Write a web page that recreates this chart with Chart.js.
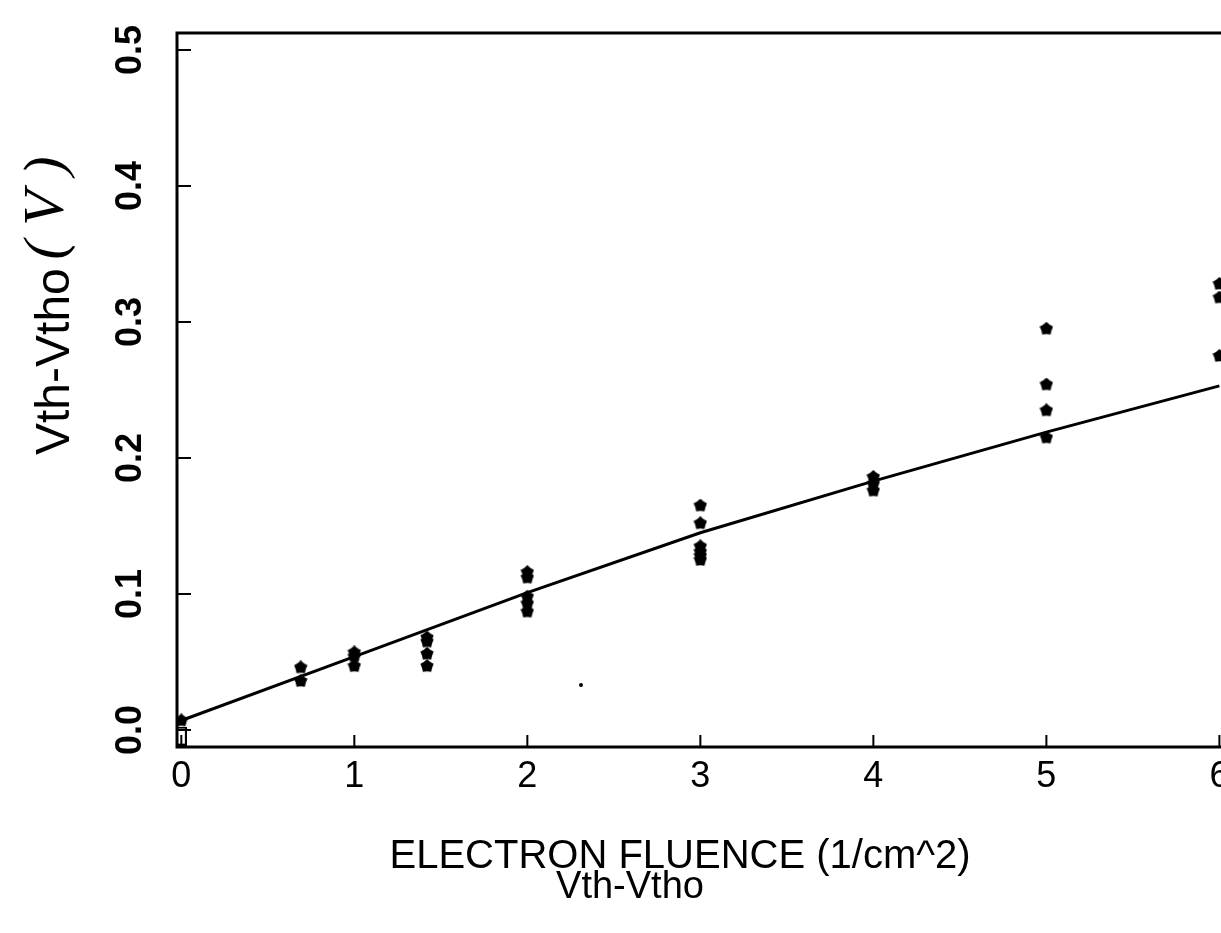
<!DOCTYPE html>
<html><head><meta charset="utf-8">
<script src="https://cdn.jsdelivr.net/npm/chart.js@4.4.1/dist/chart.umd.min.js"></script>
<style>
html,body{margin:0;padding:0;background:#fff;overflow:hidden;width:1221px;height:933px;}
#wrap{position:absolute;left:0;top:0;width:1270px;height:933px;}
</style></head><body>
<div id="wrap"><canvas id="c" width="1270" height="933"></canvas></div>
<script>
// ---- data ----
const xTickValues = [0, 1, 2, 3, 4, 5, 6];
const yTickValues = [0.0, 0.1, 0.2, 0.3, 0.4, 0.5];
const pointX = [0, 0.69, 0.69, 1, 1, 1, 1.42, 1.42, 1.42, 1.42, 2, 2, 2, 2, 2, 3, 3, 3, 3, 3, 3, 4, 4, 4, 5, 5, 5, 5, 6, 6, 6];
const pointY = [0.007, 0.046, 0.036, 0.057, 0.054, 0.047, 0.068, 0.065, 0.056, 0.047, 0.116, 0.112, 0.098, 0.093, 0.087, 0.165, 0.152, 0.135, 0.131, 0.128, 0.125, 0.186, 0.181, 0.176, 0.295, 0.254, 0.235, 0.215, 0.328, 0.318, 0.275];
const fitX = [0, 1, 2, 3, 4, 5, 6];
const fitY = [0.007, 0.054, 0.101, 0.145, 0.183, 0.219, 0.253];
const strayX = [2.31];
const strayY = [0.033];
const boxX = [0];
const boxY = [-0.0045];
const xTitle1 = 'ELECTRON FLUENCE (1/cm^2)';
const xTitle2 = 'Vth-Vtho';
const yTitle = 'Vth-Vtho';
const yUnit = '( V )';

const FONT = '"Liberation Sans", Arial, sans-serif';

// pentagon-star marker
function makeStar(size) {
  const c = document.createElement('canvas');
  c.width = size; c.height = size;
  const g = c.getContext('2d');
  const cx = size / 2, cy = size / 2, ro = size / 2, ri = ro * 0.76;
  g.beginPath();
  for (let i = 0; i < 10; i++) {
    const r = i % 2 === 0 ? ro : ri;
    const a = -Math.PI / 2 + i * Math.PI / 5;
    const px = cx + r * Math.cos(a), py = cy + r * Math.sin(a);
    if (i === 0) g.moveTo(px, py); else g.lineTo(px, py);
  }
  g.closePath();
  g.fillStyle = '#000';
  g.fill();
  return c;
}
function makeBox(w, h) {
  const c = document.createElement('canvas');
  c.width = w; c.height = h;
  const g = c.getContext('2d');
  g.strokeStyle = '#000'; g.lineWidth = 2;
  g.strokeRect(1, 1, w - 2, h - 2);
  return c;
}
const starImg = makeStar(14);
const boxImg = makeBox(11, 19);

const pts = pointX.map((x, i) => ({ x: x, y: pointY[i] }));
const fit = fitX.map((x, i) => ({ x: x, y: fitY[i] }));
const stray = strayX.map((x, i) => ({ x: x, y: strayY[i] }));
const box = boxX.map((x, i) => ({ x: x, y: boxY[i] }));

const framePlugin = {
  id: 'frameTicks',
  afterDraw(chart) {
    const ctx = chart.ctx, a = chart.chartArea;
    const xs = chart.scales.x, ys = chart.scales.y;
    ctx.save();
    ctx.strokeStyle = '#000';
    ctx.lineWidth = 3;
    ctx.strokeRect(a.left, a.top, a.right - a.left, a.bottom - a.top);
    ctx.lineWidth = 2;
    ctx.beginPath();
    yTickValues.forEach(v => {
      const y = ys.getPixelForValue(v);
      ctx.moveTo(a.left, y); ctx.lineTo(a.left + 14, y);
    });
    xTickValues.forEach(v => {
      const x = xs.getPixelForValue(v);
      ctx.moveTo(x, a.bottom); ctx.lineTo(x, a.bottom - 12);
    });
    ctx.stroke();
    // axis titles
    ctx.fillStyle = '#000';
    ctx.textBaseline = 'middle';
    ctx.textAlign = 'center';
    ctx.font = '40px ' + FONT;
    ctx.fillText(xTitle1, 680, 857);
    ctx.font = '38px ' + FONT;
    ctx.fillText(xTitle2, 630, 888);
    ctx.save();
    ctx.translate(56, 455);
    ctx.rotate(-Math.PI / 2);
    ctx.textAlign = 'left';
    ctx.font = '48px ' + FONT;
    ctx.fillText(yTitle, 0, 0);
    ctx.restore();
    ctx.save();
    ctx.translate(48, 208);
    ctx.rotate(-Math.PI / 2);
    ctx.textAlign = 'center';
    ctx.font = 'italic 58px "Liberation Serif", serif';
    ctx.fillText(yUnit, 0, 0);
    ctx.restore();
    ctx.restore();
  }
};

function zeroPad(s) { s.paddingTop = 0; s.paddingBottom = 0; s.paddingLeft = 0; s.paddingRight = 0; }

new Chart(document.getElementById('c'), {
  type: 'scatter',
  data: {
    datasets: [
      { label: 'data', data: pts, pointStyle: starImg, pointRadius: 7, showLine: false },
      { label: 'stray', data: stray, pointStyle: 'circle', pointRadius: 2, backgroundColor: '#000', borderWidth: 0, showLine: false },
      { label: 'box', data: box, pointStyle: boxImg, pointRadius: 6, showLine: false },
      { label: 'fit', type: 'line', data: fit, borderColor: '#000', borderWidth: 3, pointRadius: 0, fill: false, tension: 0 }
    ]
  },
  options: {
    responsive: false,
    animation: false,
    events: [],
    layout: { padding: { left: 0, top: 33, right: 16, bottom: 0 } },
    plugins: { legend: { display: false }, tooltip: { enabled: false }, title: { display: false } },
    scales: {
      x: {
        type: 'linear', min: -0.025, max: 6.2,
        grid: { display: false, drawTicks: false },
        border: { display: false },
        afterFit(s) { s.height = 186; zeroPad(s); },
        afterBuildTicks(s) { s.ticks = xTickValues.map(v => ({ value: v })); },
        ticks: {
          padding: 8, color: '#000',
          font: { family: FONT, size: 36 },
          callback: v => String(v),
          maxRotation: 0, minRotation: 0
        }
      },
      y: {
        type: 'linear', min: -0.0125, max: 0.5125,
        grid: { display: false, drawTicks: false },
        border: { display: false },
        afterFit(s) { s.width = 177; zeroPad(s); },
        afterBuildTicks(s) { s.ticks = yTickValues.map(v => ({ value: v })); },
        ticks: {
          padding: 21, color: '#000',
          font: { family: FONT, size: 36, weight: 'bold' },
          crossAlign: 'center',
          minRotation: 90, maxRotation: 90,
          callback: v => Number(v).toFixed(1)
        }
      }
    }
  },
  plugins: [framePlugin]
});
</script>
</body></html>
